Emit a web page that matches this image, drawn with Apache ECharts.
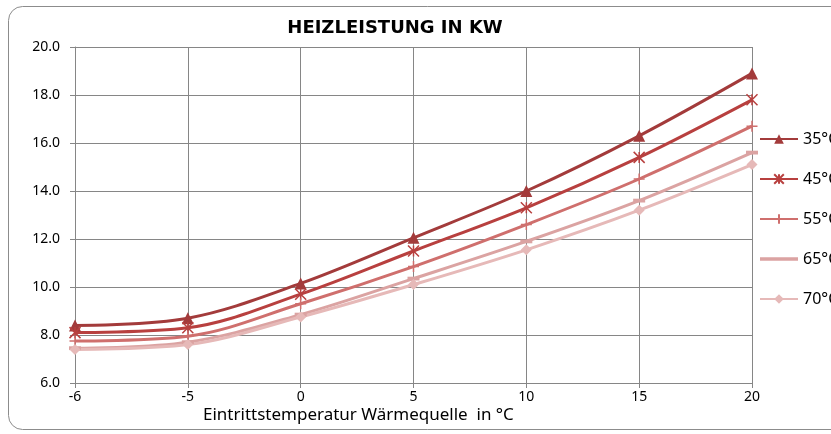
<!DOCTYPE html>
<html>
<head>
<meta charset="utf-8">
<script src="https://cdn.jsdelivr.net/npm/echarts@6/dist/echarts.min.js"></script>
<style>
  html, body { margin: 0; padding: 0; background: #fff; }
  #chart { width: 831px; height: 434px; }
</style>
</head>
<body>
<div id="chart"></div>
<script>
  // x-Achse: Eintrittstemperatur
  var categories = ['-6', '-5', '0', '5', '10', '15', '20'];

  // Heizleistung je Vorlauftemperatur
  var seriesNames = ['35°C', '45°C', '55°C', '65°C', '70°C'];
  var v35 = [8.4, 8.7, 10.15, 12.05, 14.0, 16.3, 18.9];
  var v45 = [8.1, 8.3, 9.7, 11.5, 13.3, 15.4, 17.8];
  var v55 = [7.75, 7.95, 9.3, 10.85, 12.6, 14.5, 16.7];
  var v65 = [7.45, 7.7, 8.85, 10.35, 11.9, 13.6, 15.6];
  var v70 = [7.4, 7.6, 8.75, 10.1, 11.55, 13.2, 15.1];

  var colors = ['#a33b3b', '#b8403f', '#cf6f6d', '#dba3a2', '#e6b9b8'];
  var symbols = [
    'triangle',
    'path://M0,0L10,10M10,0L0,10M5,0L5,10',
    'path://M5,0L5,10M0,5L10,5',
    'path://M0,0L11,0L11,3.5L0,3.5Z',
    'diamond'
  ];
  var symbolSizes = [12, 11, 11, 12, 11];

  function makeSeries(name, data, idx){
    var isStroke = idx === 1 || idx === 2;
    return {
      name: name,
      type: 'line',
      smooth: 0.35,
      data: data,
      symbol: symbols[idx],
      symbolSize: symbolSizes[idx],
      symbolKeepAspect: true,
      lineStyle: { width: 3, color: colors[idx] },
      itemStyle: isStroke
        ? { color: 'rgba(0,0,0,0)', borderColor: colors[idx], borderWidth: 1.5 }
        : { color: colors[idx], borderWidth: 0 },
      animation: false
    };
  }

  // 65°C: Legende nur als dicker Strich
  var legendData = seriesNames.map(function (n, i) {
    if (i === 3) {
      return { name: n, icon: 'path://M0,0H0.05V0.05H0Z M0,4.3H38V7.7H0Z M37.95,11.95H38V12H37.95Z' };
    }
    return { name: n };
  });

  var chart = echarts.init(document.getElementById('chart'));
  chart.setOption({
    backgroundColor: '#fff',
    title: {
      text: 'HEIZLEISTUNG IN KW',
      left: 390,
      textAlign: 'center',
      top: 14,
      textStyle: { fontFamily: 'DejaVu Sans', fontWeight: 'bold', fontSize: 18, color: '#000' }
    },
    graphic: [
      {
        type: 'rect',
        shape: { x: 8.5, y: 6.5, width: 840, height: 423, r: 14 },
        style: { fill: 'none', stroke: '#8c8c8c', lineWidth: 1 },
        silent: true
      },
      {
        type: 'text',
        left: 203,
        top: 407,
        style: {
          text: 'Eintrittstemperatur Wärmequelle  in °C',
          font: '17px "Noto Sans"',
          fill: '#000'
        }
      }
    ],
    legend: {
      orient: 'vertical',
      left: 759,
      top: 131,
      padding: 0,
      itemWidth: 38,
      itemHeight: 12,
      itemGap: 24,
      data: legendData,
      textStyle: { fontFamily: 'Noto Sans', fontSize: 16, color: '#000', lineHeight: 15 }
    },
    grid: { left: 75, right: 79, top: 47, bottom: 51 },
    xAxis: {
      type: 'category',
      boundaryGap: false,
      data: categories,
      axisLine: { lineStyle: { color: '#868686', width: 1 } },
      axisTick: { show: true, length: 5, lineStyle: { color: '#868686' } },
      axisLabel: { fontFamily: 'Noto Sans', fontSize: 14, color: '#000', margin: 7 },
      splitLine: { show: true, lineStyle: { color: '#868686', width: 1 } }
    },
    yAxis: {
      type: 'value',
      min: 6,
      max: 20,
      interval: 2,
      axisLine: { show: true, lineStyle: { color: '#868686', width: 1 } },
      axisTick: { show: true, length: 5, lineStyle: { color: '#868686' } },
      axisLabel: {
        fontFamily: 'Noto Sans', fontSize: 14, color: '#000', margin: 15,
        formatter: function (v) { return v.toFixed(1); }
      },
      splitLine: { show: true, lineStyle: { color: '#868686', width: 1 } }
    },
    series: [
      makeSeries(seriesNames[0], v35, 0),
      makeSeries(seriesNames[1], v45, 1),
      makeSeries(seriesNames[2], v55, 2),
      makeSeries(seriesNames[3], v65, 3),
      makeSeries(seriesNames[4], v70, 4)
    ]
  });
</script>
</body>
</html>
